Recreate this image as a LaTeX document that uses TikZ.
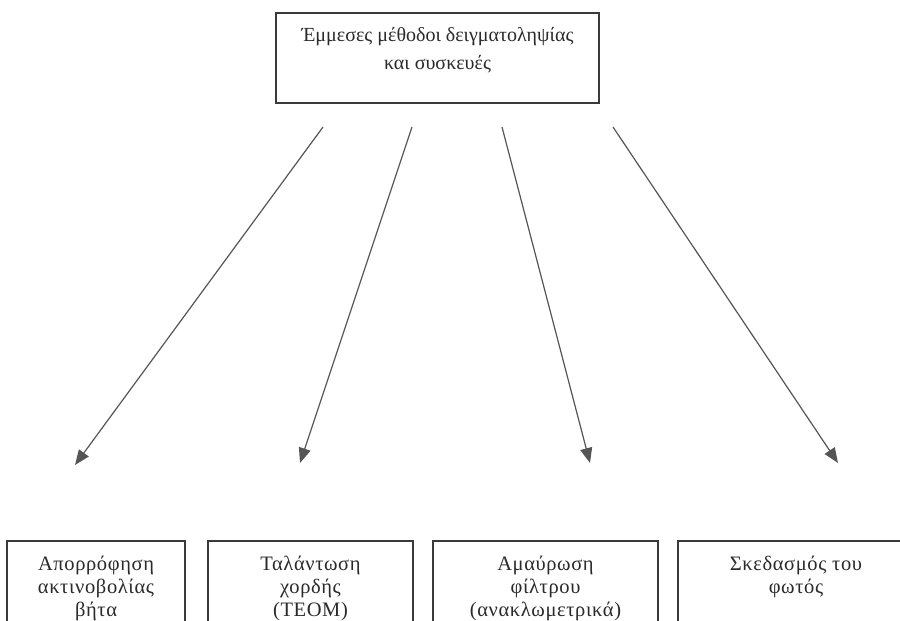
\documentclass[tikz,border=0pt]{standalone}
\usepackage{fontspec}
\setmainfont{Liberation Serif}
\usetikzlibrary{arrows.meta}
\definecolor{edge}{HTML}{3A3A3A}
\definecolor{arrowgray}{HTML}{555555}
\definecolor{ink}{HTML}{2A2A2A}
\tikzset{
  framebox/.style={draw=edge, line width=1.4pt, rectangle, inner sep=0pt},
  toptext/.style={align=center, text=ink, font=\fontsize{20}{28}\selectfont, inner sep=0pt},
  leaftext/.style={align=center, text=ink, font=\addfontfeatures{LetterSpace=3}\fontsize{20.5}{23}\selectfont, inner sep=0pt, anchor=north},
  branch/.style={draw=arrowgray, line width=1.2pt, -{Triangle[length=15pt,width=12pt]}}
}
\begin{document}
\begin{tikzpicture}[x=1pt, y=-1pt]
  \useasboundingbox (0,0) rectangle (900,621);
  \clip (0,0) rectangle (900,621);

  % root box
  \node[framebox, minimum width=323pt, minimum height=90pt] (root) at (437.5,58) {};
  \node[toptext] (rootlabel) at (437.5,50) {Έμμεσες μέθοδοι δειγματοληψίας\\και συσκευές};

  % leaf boxes (their lower edges run past the page)
  \node[framebox, minimum width=178pt, minimum height=120pt] (b1) at (96,601) {};
  \node[framebox, minimum width=205pt, minimum height=120pt] (b2) at (310.5,601) {};
  \node[framebox, minimum width=225pt, minimum height=120pt] (b3) at (545.5,601) {};
  \node[framebox, minimum width=236pt, minimum height=120pt] (b4) at (796,601) {};

  \node[leaftext] (l1) at ([yshift=-16pt]b1.north) {Απορρόφηση\\ακτινοβολίας\\βήτα};
  \node[leaftext] (l2) at ([yshift=-16pt]b2.north) {Ταλάντωση\\χορδής\\(TEOM)};
  \node[leaftext] (l3) at ([yshift=-16pt]b3.north) {Αμαύρωση\\φίλτρου\\(ανακλωμετρικά)};
  \node[leaftext] (l4) at ([yshift=-16pt]b4.north) {Σκεδασμός του\\φωτός};

  % arrow end points
  \coordinate (s1) at (323,127);
  \coordinate (s2) at (412,127);
  \coordinate (s3) at (502,127);
  \coordinate (s4) at (613,127);
  \coordinate (e1) at (75,465);
  \coordinate (e2) at (300,463);
  \coordinate (e3) at (590,463);
  \coordinate (e4) at (838,463);

  \draw[branch] (s1) -- (e1);
  \draw[branch] (s2) -- (e2);
  \draw[branch] (s3) -- (e3);
  \draw[branch] (s4) -- (e4);
\end{tikzpicture}
\end{document}
